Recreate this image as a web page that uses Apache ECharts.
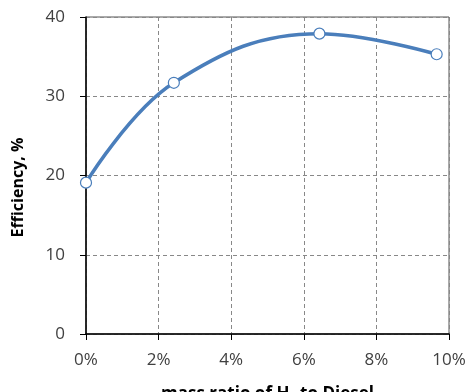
<!DOCTYPE html>
<html>
<head>
<meta charset="utf-8">
<script src="https://cdn.jsdelivr.net/npm/echarts@6/dist/echarts.min.js"></script>
<style>html,body{margin:0;padding:0;background:#fff;}#c{width:474px;height:392px;}</style>
</head>
<body>
<div id="c"></div>
<script>
const massRatio = [0, 2.42, 6.43, 9.66];
const efficiency = [19.1, 31.7, 37.9, 35.3];
const xTicks = [0, 2, 4, 6, 8, 10];
const yTicks = [0, 10, 20, 30, 40];

const chart = echarts.init(document.getElementById('c'), null, {renderer: 'canvas'});
const labelFont = {fontFamily: 'Open Sans', fontSize: 17, color: '#404040'};
chart.setOption({
  animation: false,
  grid: {left: 86, right: 25, top: 17, bottom: 58, containLabel: false, outerBoundsMode: 'none',
         show: true, borderColor: '#555', borderWidth: 1},
  xAxis: {
    type: 'value', min: xTicks[0], max: xTicks[xTicks.length - 1], interval: 2,
    name: '{n|mass ratio of H}{s|2}{n| to Diesel}', nameLocation: 'middle', nameGap: 51,
    nameTextStyle: {rich: {
      n: {fontFamily: 'Open Sans', fontSize: 17, fontWeight: 'bold', color: '#000'},
      s: {fontFamily: 'Open Sans', fontSize: 11, fontWeight: 'bold', color: '#000', verticalAlign: 'bottom', padding: [8, 0, 0, 0]}
    }},
    axisLine: {show: true, lineStyle: {color: '#000', width: 1.5}},
    axisTick: {show: true, length: 6, lineStyle: {color: '#000'}},
    axisLabel: Object.assign({margin: 18, formatter: '{value}%'}, labelFont),
    splitLine: {show: true, lineStyle: {color: '#888', type: [4, 3], width: 1}}
  },
  yAxis: {
    type: 'value', min: yTicks[0], max: yTicks[yTicks.length - 1], interval: 10,
    name: 'Efficiency, %', nameLocation: 'middle', nameGap: 60, nameRotate: 90,
    nameTextStyle: {fontFamily: 'Open Sans', fontSize: 16, fontWeight: 'bold', color: '#000', padding: [0, 24, 0, 0]},
    axisLine: {show: true, lineStyle: {color: '#000', width: 1.5}},
    axisTick: {show: true, length: 6, lineStyle: {color: '#000'}},
    axisLabel: Object.assign({margin: 21}, labelFont),
    splitLine: {show: true, lineStyle: {color: '#888', type: [4, 3], width: 1}}
  },
  series: [{
    type: 'line',
    data: massRatio.map((x, i) => [x, efficiency[i]]),
    smooth: 0.4,
    symbol: 'circle', symbolSize: 11,
    lineStyle: {color: '#4a7ebb', width: 3.5},
    itemStyle: {color: '#fff', borderColor: '#4a7ebb', borderWidth: 1.2},
    z: 5
  }]
});
</script>
</body>
</html>
